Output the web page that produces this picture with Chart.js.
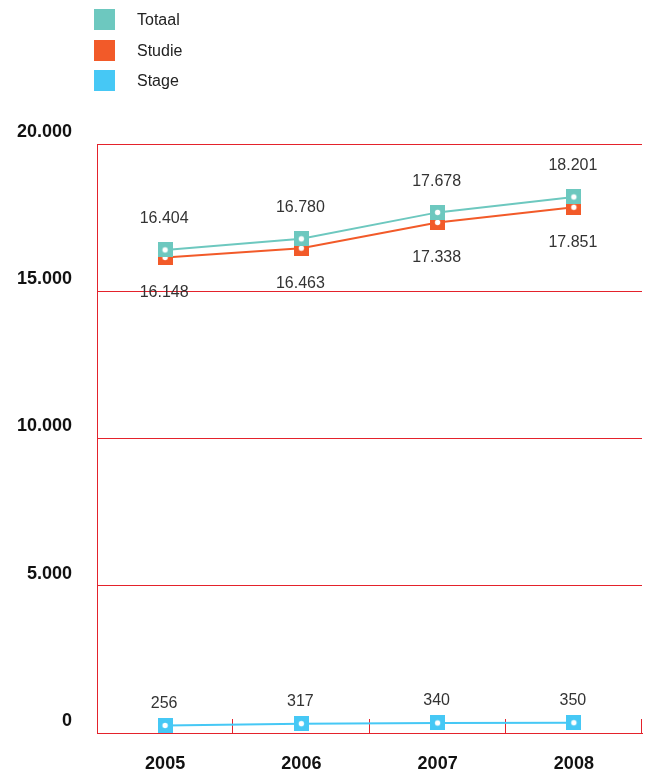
<!DOCTYPE html>
<html>
<head>
<meta charset="utf-8">
<script src="https://cdn.jsdelivr.net/npm/chart.js@4"></script>
<style>
  html, body { margin: 0; padding: 0; background: #fff; overflow: hidden; }
  #wrap { position: relative; width: 648px; height: 774px; }
  canvas { display: block; }
  #legend { position: absolute; left: 94px; top: 9px; font-family: "Liberation Sans", Arial, sans-serif; font-size: 16px; color: #222; }
  .row { position: relative; height: 30.5px; }
  .sw { position: absolute; left: 0; top: 0; width: 21px; height: 21px; }
  .lb { position: absolute; left: 43px; top: 1px; line-height: 20px; }
</style>
</head>
<body>
<div id="wrap">
  <canvas id="c" width="648" height="774"></canvas>
  <div id="legend"></div>
</div>
<script>
// ---- data ----
const categories = ["2005", "2006", "2007", "2008"];
const totaal = [16404, 16780, 17678, 18201];
const studie = [16148, 16463, 17338, 17851];
const stage  = [256, 317, 340, 350];
const seriesNames = ["Totaal", "Studie", "Stage"];
const yTicks = [0, 5000, 10000, 15000, 20000];

const colors = ["#6dc8bf", "#f25a29", "#46c8f5"];
const RED = "#e4222b";

function fmt(v) {
  return String(v).replace(/\B(?=(\d{3})+(?!\d))/g, ".");
}

function marker(color) {
  const c = document.createElement("canvas");
  c.width = 15; c.height = 15;
  const g = c.getContext("2d");
  g.fillStyle = color;
  g.fillRect(0, 0, 15, 15);
  g.fillStyle = "#fff";
  g.beginPath();
  g.arc(7.5, 7.5, 2.7, 0, Math.PI * 2);
  g.fill();
  return c;
}

const seriesData = [totaal, studie, stage];
const labelOffsets = [-31, 35, -22];

const datasets = seriesData.map((d, i) => ({
  label: seriesNames[i],
  data: d,
  borderColor: colors[i],
  backgroundColor: colors[i],
  borderWidth: 2,
  tension: 0,
  pointStyle: marker(colors[i]),
  pointRadius: 7,
  pointHoverRadius: 7,
  labelOffset: labelOffsets[i]
}));

const xTickPlugin = {
  id: "xticks",
  beforeDatasetsDraw(chart) {
    const ctx = chart.ctx, a = chart.chartArea;
    const step = (a.right - a.left) / categories.length;
    ctx.save();
    ctx.strokeStyle = RED;
    ctx.lineWidth = 1;
    for (let i = 1; i <= categories.length; i++) {
      const px = Math.round(a.left + step * i) - 0.5;
      ctx.beginPath();
      ctx.moveTo(px, a.bottom);
      ctx.lineTo(px, a.bottom - 14);
      ctx.stroke();
    }
    ctx.restore();
  }
};

const dataLabelPlugin = {
  id: "dlabels",
  afterDatasetsDraw(chart) {
    const ctx = chart.ctx;
    ctx.save();
    ctx.font = "16px 'Liberation Sans', Arial, sans-serif";
    ctx.fillStyle = "#333";
    ctx.textAlign = "center";
    ctx.textBaseline = "middle";
    chart.data.datasets.forEach((ds, i) => {
      const meta = chart.getDatasetMeta(i);
      meta.data.forEach((pt, j) => {
        ctx.fillText(fmt(ds.data[j]), pt.x - 1, pt.y + ds.labelOffset);
      });
    });
    ctx.restore();
  }
};

const chart = new Chart(document.getElementById("c"), {
  type: "line",
  data: { labels: categories, datasets },
  options: {
    responsive: false,
    animation: false,
    layout: { autoPadding: false, padding: { top: 144, right: 6, left: 0, bottom: 0 } },
    plugins: { legend: { display: false }, tooltip: { enabled: false } },
    scales: {
      x: {
        offset: true,
        grid: { display: false, drawTicks: false },
        border: { display: true, color: RED, width: 1 },
        ticks: {
          padding: 20,
          color: "#111",
          font: { family: "'Liberation Sans', Arial, sans-serif", size: 18, weight: "bold" }
        },
        afterFit(s) { s.height = 41; s.paddingLeft = 0; s.paddingRight = 0; }
      },
      y: {
        min: 0, max: 20000,
        afterBuildTicks(s) { s.ticks = yTicks.map(v => ({ value: v })); },
        grid: { color: RED, drawTicks: false, lineWidth: 1 },
        border: { display: true, color: RED, width: 1 },
        ticks: {
          padding: 25,
          labelOffset: -12,
          color: "#111",
          font: { family: "'Liberation Sans', Arial, sans-serif", size: 18, weight: "bold" },
          callback: v => fmt(v)
        },
        afterFit(s) { s.width = 97; s.paddingTop = 0; s.paddingBottom = 0; }
      }
    }
  },
  plugins: [xTickPlugin, dataLabelPlugin]
});

const leg = document.getElementById("legend");
chart.data.datasets.forEach(ds => {
  const r = document.createElement("div"); r.className = "row";
  const s = document.createElement("div"); s.className = "sw"; s.style.background = ds.borderColor;
  const t = document.createElement("div"); t.className = "lb"; t.textContent = ds.label;
  r.appendChild(s); r.appendChild(t); leg.appendChild(r);
});
</script>
</body>
</html>
